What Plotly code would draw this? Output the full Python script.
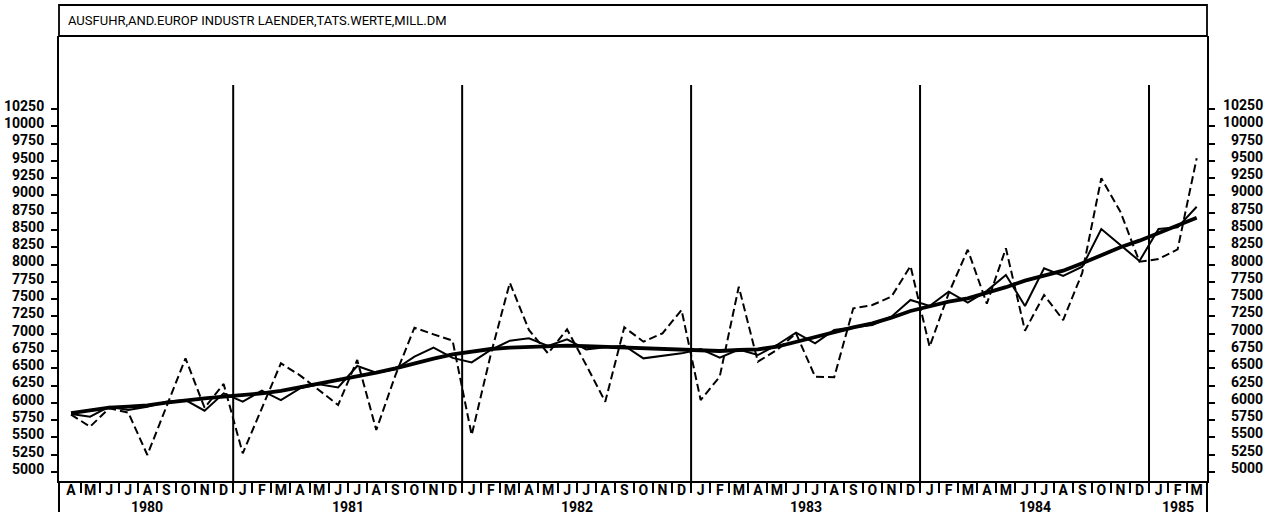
import pandas as pd
import plotly.graph_objects as go

# Monthly periods, April 1980 – March 1985
periods = pd.period_range("1980-04", "1985-03", freq="M")
month_letters = ["J", "F", "M", "A", "M", "J", "J", "A", "S", "O", "N", "D"]
tick_labels = [month_letters[p.month - 1] for p in periods]

title_text = "AUSFUHR,AND.EUROP INDUSTR LAENDER,TATS.WERTE,MILL.DM"

# Actual values (Mill. DM)
actual = [
    5830, 5656, 5921, 5860, 5246, 5945, 6644, 5930, 6273,
    5270, 5921, 6572, 6398, 6186, 5969, 6620, 5607, 6398, 7087, 6991, 6900,
    5535, 6700, 7738, 7054, 6716, 7063, 6548, 6017, 7093, 6885, 7006, 7343,
    6041, 6379, 7680, 6596, 6765, 7006, 6379, 6370, 7367, 7415, 7536, 7979,
    6812, 7584, 8215, 7435, 8235, 7044, 7560, 7198, 7880, 9248, 8765, 8042,
    8080, 8220, 9537,
]

# Seasonally adjusted values
adjusted = [
    5840, 5800, 5945, 5897, 5945, 6017, 6041, 5887, 6138,
    6017, 6176, 6041, 6210, 6268, 6224, 6533, 6436, 6485, 6668, 6798, 6650,
    6585, 6765, 6899, 6933, 6822, 6919, 6774, 6803, 6827, 6644, 6678, 6716,
    6777, 6655, 6770, 6692, 6837, 7015, 6861, 7054, 7093, 7126, 7246, 7488,
    7401, 7608, 7449, 7620, 7849, 7401, 7946, 7835, 7970, 8515, 8283, 8052,
    8515, 8539, 8837,
]

# Trend component
trend = [
    5850, 5887, 5930, 5945, 5964, 6003, 6041, 6066, 6090,
    6109, 6138, 6172, 6224, 6273, 6330, 6388, 6436, 6499, 6572, 6639, 6700,
    6740, 6779, 6798, 6812, 6822, 6827, 6822, 6812, 6803, 6789, 6774, 6765,
    6755, 6750, 6765, 6774, 6812, 6885, 6957, 7030, 7093, 7150, 7232, 7329,
    7401, 7463, 7512, 7591, 7673, 7767, 7835, 7912, 8019, 8139, 8250, 8346,
    8452, 8558, 8678,
]

y_ticks = list(range(5000, 10251, 250))

x = list(range(len(periods)))
years = sorted(set(p.year for p in periods))
year_centers = [
    sum(i for i, p in enumerate(periods) if p.year == yr) / sum(1 for p in periods if p.year == yr)
    for yr in years
]
year_breaks = [i - 0.5 for i, p in enumerate(periods) if p.month == 1]

W, H = 1281, 517
ML, MR, MT, MB = 59, 74, 36, 36
PW, PH = W - ML - MR, H - MT - MB

FONT = "Roboto, DejaVu Sans, sans-serif"
tick_font = dict(family=FONT, size=14, color="black", weight="bold")
month_font = dict(family=FONT, size=14, color="black", weight="bold")

fig = go.Figure()
fig.add_trace(go.Scatter(x=x, y=actual, mode="lines",
                         line=dict(color="black", width=2, dash="8px,4px")))
fig.add_trace(go.Scatter(x=x, y=adjusted, mode="lines",
                         line=dict(color="black", width=2)))
fig.add_trace(go.Scatter(x=x, y=trend, mode="lines", yaxis="y2",
                         line=dict(color="black", width=3.8)))

y_range = [4870, 11306]

fig.update_layout(
    width=W, height=H,
    margin=dict(l=ML, r=MR, t=MT, b=MB, pad=0, autoexpand=False),
    paper_bgcolor="white", plot_bgcolor="white",
    showlegend=False,
    xaxis=dict(
        range=[-0.63, 59.54], tickmode="array", tickvals=x, ticktext=tick_labels,
        ticks="", showgrid=False, zeroline=False, automargin=False,
        showline=True, linecolor="black", linewidth=2,
        tickfont=month_font, ticklabelstandoff=-5,
        minor=dict(tickmode="array", tickvals=[i + 0.5 for i in x[:-1]],
                   ticks="outside", ticklen=10, tickwidth=1.5, tickcolor="black"),
    ),
    yaxis=dict(
        range=y_range, tickmode="array", tickvals=y_ticks,
        ticktext=[str(v) for v in y_ticks],
        ticks="outside", ticklen=6, tickwidth=1.5, tickcolor="black",
        showgrid=False, zeroline=False, automargin=False,
        showline=True, linecolor="black", linewidth=2,
        tickfont=tick_font, ticklabelshift=-3, ticklabelstandoff=4,
    ),
    yaxis2=dict(
        range=y_range, overlaying="y", side="right", anchor="x",
        tickmode="array", tickvals=y_ticks, showticklabels=False,
        ticks="outside", ticklen=6, tickwidth=1.5, tickcolor="black",
        showgrid=False, zeroline=False, automargin=False,
        showline=True, linecolor="black", linewidth=2,
    ),
)

shapes = []
# title band
band_top = 1 + (MT - 5) / PH
shapes.append(dict(type="rect", xref="paper", yref="paper", x0=0, x1=1, y0=1, y1=band_top,
                   line=dict(color="black", width=1.8), fillcolor="rgba(0,0,0,0)"))
# year separators
for xb in year_breaks:
    shapes.append(dict(type="line", xref="x", yref="paper", x0=xb, x1=xb, y0=0, y1=0.89,
                       line=dict(color="black", width=2)))
# frame extensions below the month row
for xp in (0, 1):
    shapes.append(dict(type="line", xref="paper", yref="paper", x0=xp, x1=xp, y0=0, y1=-31 / PH,
                       line=dict(color="black", width=2)))
fig.update_layout(shapes=shapes)

annotations = [
    dict(text=title_text, xref="paper", yref="paper", x=7 / PW, y=1 + 16 / PH,
         xanchor="left", yanchor="middle", showarrow=False,
         font=dict(family=FONT, size=13, color="black")),
]
for yr, xc in zip(years, year_centers):
    annotations.append(dict(text=str(yr), xref="x", yref="paper", x=xc, y=-26 / PH,
                            xanchor="center", yanchor="middle", showarrow=False,
                            font=month_font))
for v in y_ticks:
    annotations.append(dict(text=str(v), xref="paper", yref="y", x=1 + 58 / PW, y=v,
                            xanchor="right", yanchor="middle", yshift=4, showarrow=False,
                            font=tick_font))
fig.update_layout(annotations=annotations)

fig.write_html("out.html")
